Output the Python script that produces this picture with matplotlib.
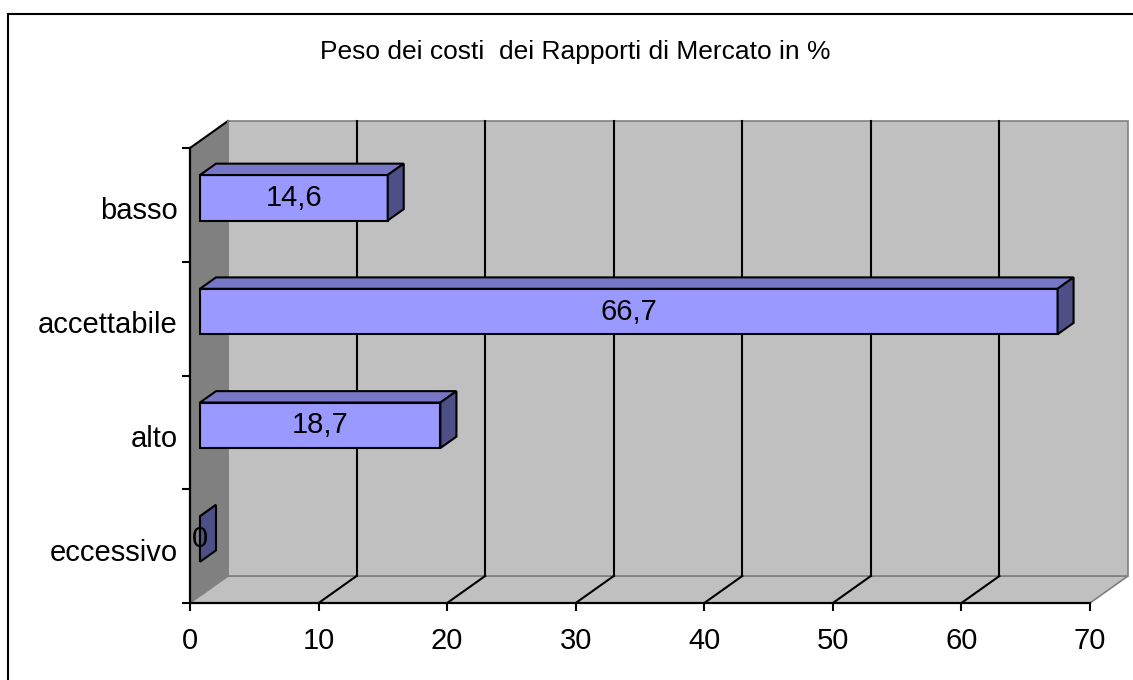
import matplotlib.pyplot as plt
from matplotlib.patches import Polygon, Rectangle

plt.rcParams['font.family'] = ['Liberation Sans', 'DejaVu Sans']

# data
categorie = ['eccessivo', 'alto', 'accettabile', 'basso']
valori = [0, 18.7, 66.7, 14.6]
etichette = ['0', '18,7', '66,7', '14,6']
xticks = [0, 10, 20, 30, 40, 50, 60, 70]
titolo = 'Peso dei costi  dei Rapporti di Mercato in %'

W, H = 1133, 680
fig = plt.figure(figsize=(W / 100, H / 100), dpi=100)

# front plane of the 3d box in pixels
x0_px, x1_px = 190, 1090
y0_px, y1_px = 603, 148
ax = fig.add_axes([x0_px / W, (H - y0_px) / H,
                   (x1_px - x0_px) / W, (y0_px - y1_px) / H])
ax.set_xlim(0, 70)
ax.set_ylim(0, 4)
ax.patch.set_visible(False)

# depth of the box in data units (38 px right, 27 px up)
DX = 38 / ((x1_px - x0_px) / 70)
DY = 27 / ((y0_px - y1_px) / 4)
XMAX = 70

wall_edge = '#808080'
# left wall
ax.add_patch(Polygon([(0, 0), (0, 4), (DX, 4 + DY), (DX, DY)], closed=True,
                     facecolor='#808080', edgecolor='none', zorder=0, clip_on=False))
ax.plot([0, DX], [4, 4 + DY], color='black', lw=1.5, zorder=1, clip_on=False)
ax.plot([DX, DX], [DY, 4 + DY], color=wall_edge, lw=1.2, zorder=1, clip_on=False)
# floor
ax.add_patch(Polygon([(0, 0), (XMAX, 0), (XMAX + DX, DY), (DX, DY)], closed=True,
                     facecolor='#c0c0c0', edgecolor=wall_edge, lw=1.2, zorder=0,
                     clip_on=False))
# back wall
ax.add_patch(Rectangle((DX, DY), XMAX, 4, facecolor='#c0c0c0', edgecolor=wall_edge,
                       lw=1.2, zorder=0, clip_on=False))

# gridlines on back wall and floor
for v in xticks[1:-1]:
    ax.plot([v + DX, v + DX], [DY, 4 + DY], color='black', lw=1.5, zorder=1,
            clip_on=False)
    ax.plot([v, v + DX], [0, DY], color='black', lw=1.5, zorder=1, clip_on=False)

# bars: front face at depth d0, back at d1
d0, d1 = 10 / 38, 26 / 38
bh = 0.4
left = d0 * DX
ycen = [i + 0.5 + d0 * DY for i in range(len(categorie))]
bdx, bdy = (d1 - d0) * DX, (d1 - d0) * DY

ax.barh(ycen, valori, left=left, height=bh, color='#9999ff', edgecolor='black',
        lw=1.5, zorder=3, clip_on=False)
for y, v, lab in zip(ycen, valori, etichette):
    yt, yb = y + bh / 2, y - bh / 2
    xr = left + v
    ax.add_patch(Polygon([(left, yt), (xr, yt), (xr + bdx, yt + bdy), (left + bdx, yt + bdy)],
                         closed=True, facecolor='#7777c8', edgecolor='black', lw=1.5,
                         zorder=3, clip_on=False))
    ax.add_patch(Polygon([(xr, yb), (xr, yt), (xr + bdx, yt + bdy), (xr + bdx, yb + bdy)],
                         closed=True, facecolor='#4f4f88', edgecolor='black', lw=1.5,
                         zorder=3, clip_on=False))
    ax.text(left + v / 2, y, lab, ha='center', va='center', fontsize=21, zorder=4)

# axes
for s in ['top', 'right']:
    ax.spines[s].set_visible(False)
for s in ['left', 'bottom']:
    ax.spines[s].set_linewidth(1.6)
    ax.spines[s].set_zorder(2)
ax.set_xticks(xticks)
ax.set_xticklabels([str(t) for t in xticks], fontsize=21)
ax.set_yticks(range(5))
ax.set_yticklabels([])
ax.set_yticks([i + 0.5 - 0.03 for i in range(4)], minor=True)
ax.set_yticklabels(categorie, minor=True, fontsize=21)
ax.tick_params(axis='both', which='major', direction='out', length=6, width=1.5)
ax.tick_params(axis='x', pad=11)
ax.tick_params(axis='y', which='minor', length=0, pad=9)

fig.text(575 / W, 1 - 52 / H, titolo, ha='center', va='center', fontsize=19)

# chart border
fig.add_artist(Rectangle((8 / W, -0.05), 1.1, 1 - 14 / H + 0.05, transform=fig.transFigure,
                         fill=False, edgecolor='black', lw=1.5))

fig.savefig('out.png', dpi=100)
